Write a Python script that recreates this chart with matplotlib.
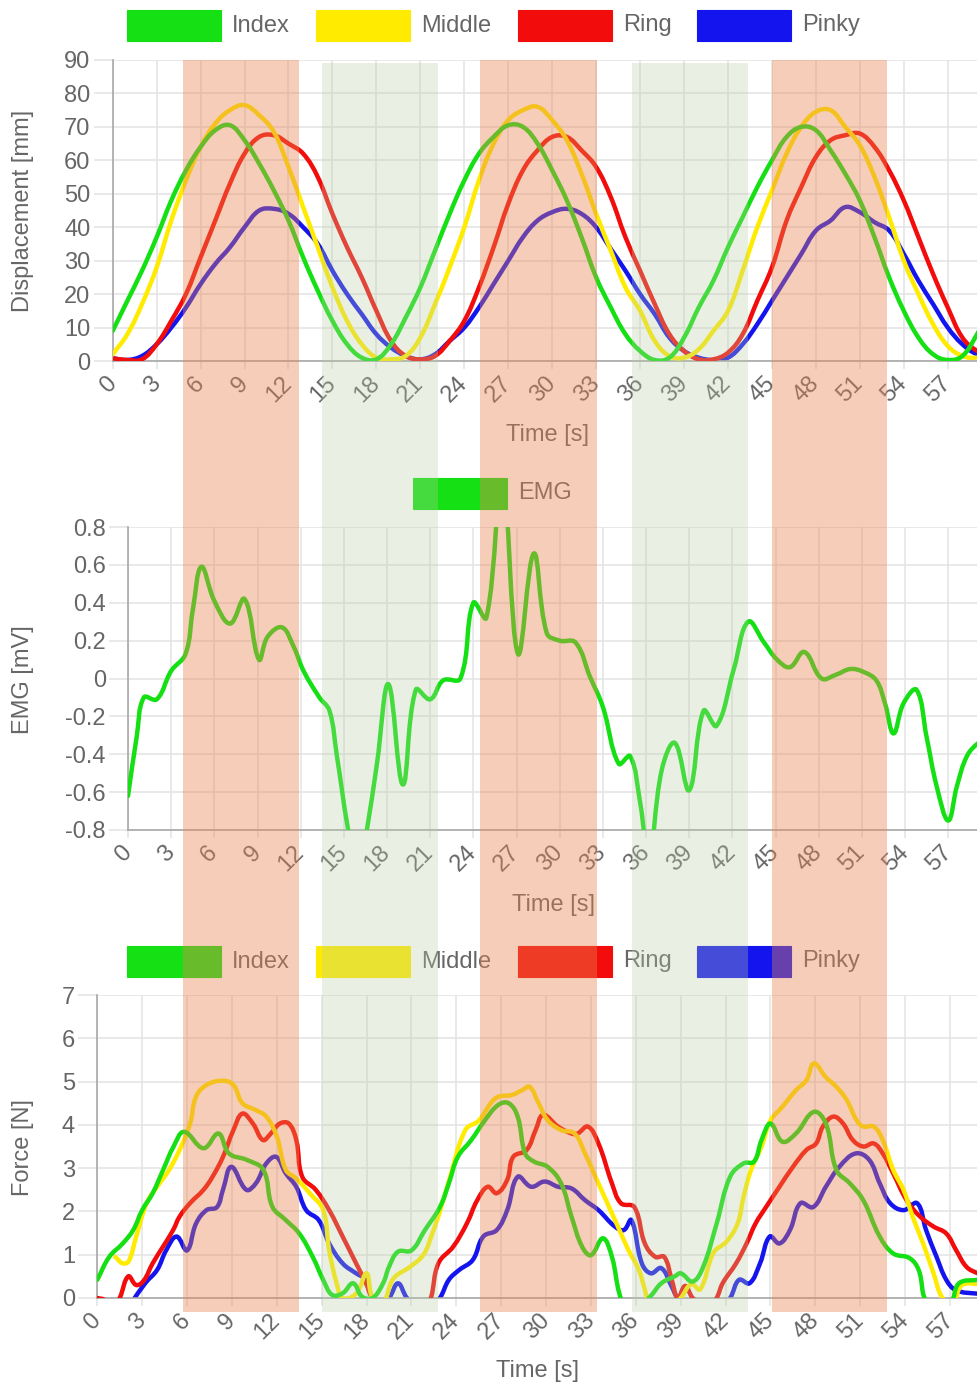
import numpy as np
import matplotlib
matplotlib.use("Agg")
import matplotlib.pyplot as plt
from matplotlib.path import Path
from matplotlib.patches import PathPatch, Rectangle

plt.rcParams['font.family'] = ['Liberation Sans', 'DejaVu Sans']

# ------------------------------------------------------------------ data
seconds = list(range(61))
tick_seconds = list(range(0, 58, 3))
finger_names = ['Index', 'Middle', 'Ring', 'Pinky']

# finger displacement [mm], one sample per second
disp_index = [9, 18, 27, 37, 48, 57, 64, 69, 70.5, 66, 59, 51, 42, 31, 21, 12, 5, 1, 0.5, 5,
              13, 22, 33, 44, 54, 62, 67, 70.5, 70, 65, 57, 48, 37, 25, 16, 8, 3, 0.3, 1, 7,
              16, 24, 34, 43, 52, 60, 67, 70, 69, 63, 56, 48, 37, 25, 15, 7, 2, 0.3, 1.5, 8, 16]
disp_middle = [2, 8, 17, 28, 42, 54, 64, 71, 75, 76.5, 73.5, 68.5, 58, 46, 34, 22, 12, 5, 1, 0.5,
               1.5, 7, 17, 28, 40, 54, 65, 72, 75, 76, 72, 66, 56, 44, 33, 22, 15, 6, 1.5, 1,
               3.5, 9, 15, 27, 40, 51, 62, 70, 74.5, 75, 70, 64.5, 55, 43, 30, 20, 11, 4.5, 1.5, 1, 2]
disp_ring = [0.8, 0.3, 0.5, 5, 12, 20, 31, 42, 53, 62, 67, 67.5, 65, 62, 55, 44, 34, 25, 15, 6,
             1.5, 0.5, 1.5, 6, 12, 22, 34, 47, 57, 63, 67, 67, 63, 58, 49, 37, 27, 17, 8, 3,
             0.5, 0.5, 2.5, 8, 18, 28, 42, 52, 61, 66, 67.5, 68, 64, 57, 48, 37, 26, 16, 7, 3, 1]
disp_pinky = [0.8, 0.3, 1.5, 5, 10, 16, 23, 29, 34, 40, 45, 45.5, 44, 40, 35, 27, 20, 14, 8, 4,
              1.5, 0.5, 2, 6, 10, 16, 23, 30, 37, 42, 44.5, 45.5, 44, 40, 33.5, 27, 20, 14, 7, 3,
              1, 0.3, 1, 5, 11, 18, 25, 32, 39, 42, 46, 44.5, 41.5, 39, 32, 24, 17, 10, 5, 2, 1]

# EMG [mV]
emg_time = [0, 0.6, 1.1, 2.0, 3.0, 4.0, 4.5, 5.1, 6.0, 7.1, 8.1, 9.1, 9.7, 10.7, 11.5, 12.2,
            13.3, 14.0, 14.5, 15.3, 16.0, 16.6, 17.3, 18.1, 19.1, 20.0, 21.0, 21.9, 23.1, 24.0,
            24.9, 26.0, 27.1, 28.2, 29.1, 30.0, 31.1, 32.1, 33.0, 34.1, 34.9, 35.6, 36.2, 37.1,
            38.0, 39.0, 40.0, 40.9, 42.1, 43.1, 44.2, 45.1, 46.0, 47.0, 48.2, 49.2, 50.2, 51.1,
            52.0, 52.6, 53.2, 53.9, 54.8, 55.5, 56.2, 57.0, 57.6, 58.3, 59.1, 60.0]
emg_mv = [-0.62, -0.31, -0.10, -0.11, 0.04, 0.13, 0.36, 0.59, 0.41, 0.29, 0.42, 0.10, 0.22, 0.27,
          0.17, 0.04, -0.10, -0.17, -0.40, -0.80, -1.05, -0.80, -0.45, -0.03, -0.56, -0.06, -0.11,
          -0.01, 0.0, 0.40, 0.32, 1.05, 0.13, 0.66, 0.24, 0.20, 0.19, 0.01, -0.15, -0.45, -0.41,
          -0.66, -0.95, -0.48, -0.34, -0.59, -0.17, -0.25, 0.05, 0.30, 0.19, 0.10, 0.06, 0.14, 0.0,
          0.02, 0.05, 0.035, -0.01, -0.13, -0.29, -0.13, -0.06, -0.31, -0.57, -0.75, -0.57, -0.41,
          -0.34, -0.30]

# fingertip force [N]
force_index_t = [0, 0.8, 1.7, 2.4, 3.0, 3.7, 4.4, 5.1, 5.8, 7.1, 8.1, 8.8, 10.0, 11.1, 11.7, 12.6,
                 13.5, 14.4, 15.1, 15.7, 16.4, 17.1, 17.7, 18.4, 19.1, 19.5, 20.1, 21.0, 21.9,
                 22.9, 23.5, 24.1, 25.0, 25.9, 26.8, 27.5, 28.1, 28.6, 29.2, 30.1, 31.0, 31.7,
                 32.4, 33.0, 33.8, 34.4, 34.9, 35.3, 36.3, 37.0, 37.7, 38.6, 39.0, 39.8, 40.5,
                 41.4, 42.3, 43.2, 43.9, 44.4, 45.0, 45.8, 46.7, 47.9, 48.7, 49.4, 50.3, 51.2,
                 52.3, 53.2, 54.3, 54.9, 55.5, 57.0, 57.6, 58.9, 60.0]
force_index = [0.42, 0.95, 1.26, 1.57, 2.03, 2.42, 2.96, 3.5, 3.84, 3.46, 3.8, 3.34, 3.19, 2.96,
               2.11, 1.8, 1.49, 0.95, 0.42, 0.07, 0.11, 0.34, 0.03, 0.0, 0.34, 0.72, 1.07, 1.1,
               1.57, 2.1, 2.65, 3.26, 3.65, 4.1, 4.46, 4.5, 4.19, 3.34, 3.15, 3.03, 2.65, 1.88,
               1.19, 0.99, 1.38, 0.95, 0.1, -0.15, -0.15, 0.05, 0.34, 0.5, 0.57, 0.38, 0.72,
               1.72, 2.8, 3.11, 3.15, 3.65, 4.03, 3.61, 3.8, 4.3, 4.03, 2.96, 2.65, 2.26,
               1.42, 1.03, 0.92, 0.65, -0.1, -0.1, 0.34, 0.42, 0.45]
force_middle_t = [1.2, 1.7, 2.1, 2.6, 3.3, 4.0, 4.8, 5.5, 6.2, 6.6, 7.3, 8.4, 9.1, 9.7, 10.6,
                  11.3, 12.0, 12.6, 13.3, 14.2, 15.1, 15.5, 16.0, 16.4, 17.3, 18.0, 18.4, 19.1,
                  19.8, 20.9, 21.8, 22.4, 22.9, 23.5, 24.6, 25.5, 26.3, 26.8, 27.7, 28.4, 28.9,
                  29.5, 30.1, 31.0, 31.9, 32.6, 33.3, 34.2, 34.8, 35.5, 36.2, 36.6, 36.9, 38.5,
                  39.0, 39.7, 40.3, 41.2, 42.05, 42.8, 43.2, 43.7, 44.4, 45.0, 45.8, 46.7, 47.4,
                  47.9, 48.7, 49.4, 50.1, 50.75, 51.2, 51.9, 52.5, 53.2, 53.9, 54.5, 55.2, 55.9,
                  56.5, 57.2, 57.8, 59.0, 60.0]
force_middle = [0.95, 0.8, 0.85, 1.42, 2.19, 2.57, 2.96, 3.42, 4.03, 4.65, 4.92, 5.02, 4.92, 4.5,
                4.34, 4.19, 3.73, 2.96, 2.76, 2.42, 2.03, 1.1, 0.34, 0.0, 0.1, 0.57, 0.0, -0.1,
                0.45, 0.72, 1.0, 1.5, 2.0, 2.7, 3.88, 4.1, 4.5, 4.65, 4.69, 4.8, 4.88, 4.5, 4.11,
                3.88, 3.8, 3.34, 2.8, 2.11, 1.65, 1.11, 0.65, 0.2, -0.1, -0.15, 0.0, 0.32, 0.2,
                1.05, 1.3, 1.72, 2.34, 2.96, 3.5, 4.1, 4.42, 4.8, 5.03, 5.42, 5.1, 4.88, 4.57,
                4.11, 3.96, 3.96, 3.65, 2.96, 2.49, 1.88, 1.26, 0.57, 0.0, -0.1, 0.3, 0.32, 0.3]
force_ring_t = [0, 0.5, 1.0, 1.5, 2.07, 2.6, 3.1, 3.7, 4.4, 5.07, 5.5, 6.2, 7.1, 7.7, 8.4, 9.1,
                9.7, 10.4, 11.07, 11.6, 12.2, 12.8, 13.3, 13.7, 14.6, 15.5, 16.4, 17.3, 17.96,
                18.4, 19.0, 22.0, 22.3, 22.8, 23.8, 24.7, 25.4, 26.1, 26.7, 27.4, 27.8, 28.7,
                29.3, 29.8, 30.8, 31.7, 32.1, 32.8, 33.5, 34.4, 35.0, 35.9, 36.6, 37.3, 37.9,
                38.4, 38.8, 39.3, 39.8, 40.5, 41.0, 41.4, 41.8, 42.7, 43.4, 44.0, 44.7, 45.6,
                46.5, 47.4, 48.05, 48.5, 49.2, 49.85, 50.5, 51.2, 51.9, 52.5, 53.2, 54.1, 55.0,
                55.9, 56.75, 57.4, 58.1, 58.85, 60.0]
force_ring = [0.0, -0.05, -0.3, 0.0, 0.5, 0.3, 0.4, 0.8, 1.19, 1.57, 1.88, 2.19, 2.5, 2.8, 3.26,
              3.88, 4.26, 4.03, 3.65, 3.8, 4.03, 4.03, 3.65, 2.8, 2.5, 2.03, 1.42, 0.8, 0.34, 0.0,
              -0.15, -0.15, 0.0, 0.8, 1.19, 1.72, 2.26, 2.57, 2.42, 2.73, 3.26, 3.42, 3.88, 4.23,
              3.96, 3.8, 3.8, 3.96, 3.57, 2.65, 2.19, 2.1, 1.26, 0.95, 0.95, 0.42, 0.0, 0.28, 0.0,
              -0.15, -0.15, 0.0, 0.34, 0.8, 1.26, 1.72, 2.1, 2.57, 3.03, 3.42, 3.57, 3.96, 4.19,
              4.03, 3.65, 3.5, 3.57, 3.34, 2.88, 2.26, 1.88, 1.65, 1.49, 1.11, 0.72, 0.57, 0.4]
force_pinky_t = [2.3, 3.2, 4.0, 4.6, 5.3, 6.0, 6.6, 7.3, 8.0, 8.4, 8.96, 9.96, 10.6, 11.3, 11.96,
                 12.6, 13.3, 13.96, 14.8, 15.5, 16.4, 17.3, 17.96, 18.4, 19.0, 19.5, 20.1, 20.7,
                 21.3, 22.4, 22.9, 23.5, 24.2, 25.1, 25.8, 26.7, 27.4, 28.1, 29.0, 29.9, 30.8,
                 31.7, 32.6, 33.5, 34.6, 35.2, 35.7, 36.4, 37.0, 37.7, 38.4, 38.8, 39.5, 41.8,
                 42.3, 42.9, 43.6, 44.3, 44.95, 45.6, 46.3, 47.0, 47.85, 48.7, 49.6, 50.7, 51.6,
                 52.3, 53.0, 53.9, 54.8, 55.4, 56.1, 56.75, 57.4, 58.85, 60.0]
force_pinky = [-0.1, 0.34, 0.65, 1.1, 1.42, 1.1, 1.72, 2.03, 2.1, 2.5, 3.03, 2.5, 2.65, 3.11,
               3.26, 2.88, 2.57, 2.03, 1.8, 1.26, 0.8, 0.57, 0.42, 0.0, -0.1, 0.0, 0.34, 0.0,
               -0.15, -0.15, 0.0, 0.42, 0.65, 0.88, 1.42, 1.57, 2.03, 2.8, 2.57, 2.69, 2.57,
               2.53, 2.26, 2.03, 1.65, 1.57, 1.8, 0.8, 0.57, 0.69, 0.26, 0.0, -0.15, -0.15,
               0.0, 0.42, 0.34, 0.8, 1.42, 1.26, 1.57, 2.19, 2.1, 2.57, 3.03, 3.34, 3.19,
               2.65, 2.19, 2.03, 2.19, 1.57, 0.95, 0.42, 0.18, 0.1, 0.08]

# ------------------------------------------------------------------ style
W, H = 978, 1384
finger_colors = ['#14e014', '#ffeb00', '#f20c0c', '#1414ee']
emg_color = '#14e014'
text_grey = '#666666'
grid_grey = '#e3e3e3'
axis_grey = '#a8a8a8'
FS = 17
LW = 3.2

fig = plt.figure(figsize=(W / 100, H / 100), dpi=100)
fig.patch.set_facecolor('white')


def fx(px):
    return px / W


def fy(py):
    return 1 - py / H


def make_axes(left, top, bottom, px_per_s, ylim, yticks, yticklabels):
    ax = fig.add_axes([fx(left), fy(bottom), fx(W - left), (bottom - top) / H])
    ax.set_xlim(0, (W - left) / px_per_s)
    ax.set_ylim(*ylim)
    ax.set_xticks(tick_seconds)
    ax.set_xticklabels([str(s) for s in tick_seconds])
    ax.set_yticks(yticks)
    ax.set_yticklabels(yticklabels)
    ax.grid(True, color=grid_grey, lw=1.1)
    ax.set_axisbelow(True)
    for side in ('top', 'right'):
        ax.spines[side].set_visible(False)
    for side in ('left', 'bottom'):
        ax.spines[side].set_color(axis_grey)
        ax.spines[side].set_linewidth(1.2)
    ax.tick_params(axis='y', length=14, width=1.1, color=grid_grey, pad=2,
                   labelsize=FS, labelcolor=text_grey)
    ax.tick_params(axis='x', length=6, width=1.1, color=grid_grey, pad=8,
                   labelsize=FS, labelcolor=text_grey)
    for lab in ax.get_xticklabels():
        lab.set_rotation(45)
        lab.set_ha('right')
        lab.set_va('center')
        lab.set_rotation_mode('anchor')
    return ax


def spline(ax, t, v, color, z, tension=0.4):
    # cubic Bezier through the samples, control points as in a tensioned line
    pts = ax.transData.transform(np.column_stack([np.asarray(t, float), np.asarray(v, float)]))
    n = len(pts)
    cin = np.zeros_like(pts)
    cout = np.zeros_like(pts)
    for i in range(n):
        prev = pts[i - 1] if i > 0 else pts[i]
        nxt = pts[i + 1] if i < n - 1 else pts[i]
        d01 = np.hypot(*(pts[i] - prev))
        d12 = np.hypot(*(nxt - pts[i]))
        tot = d01 + d12
        s01 = d01 / tot if tot else 0.0
        s12 = d12 / tot if tot else 0.0
        cin[i] = pts[i] - tension * s01 * (nxt - prev)
        cout[i] = pts[i] + tension * s12 * (nxt - prev)
    verts = [pts[0]]
    codes = [Path.MOVETO]
    for i in range(1, n):
        verts += [cout[i - 1], cin[i], pts[i]]
        codes += [Path.CURVE4] * 3
    verts = ax.transData.inverted().transform(np.array(verts))
    ax.add_patch(PathPatch(Path(verts, codes), fill=False, edgecolor=color, lw=LW,
                           zorder=z, capstyle='round', joinstyle='round'))


def legend(items, y_top, box_w=94, box_h=31):
    for (x, label, color) in items:
        fig.add_artist(Rectangle((fx(x), fy(y_top + box_h)), box_w / W, box_h / H,
                                 transform=fig.transFigure, facecolor=color,
                                 edgecolor=color, lw=0.8, zorder=2))
        fig.text(fx(x + box_w + 11), fy(y_top + box_h / 2), label, ha='left', va='center',
                 fontsize=FS, color=text_grey, zorder=3)


# ------------------------------------------------------------------ displacement
ax1 = make_axes(112.7, 60, 361, 14.65, (0, 90), list(range(0, 91, 10)),
                [str(v) for v in range(0, 91, 10)])
for k, series in reversed(list(enumerate([disp_index, disp_middle, disp_ring, disp_pinky]))):
    spline(ax1, seconds, series, finger_colors[k], 5 - k)
legend(list(zip([127, 316, 518, 697], finger_names, finger_colors)), 10)
fig.text(fx(23), fy(211), 'Displacement [mm]', rotation=90, ha='center', va='center',
         fontsize=FS, color=text_grey)
fig.text(fx(547), fy(435), 'Time [s]', ha='center', va='center', fontsize=FS, color=text_grey)

# ------------------------------------------------------------------ EMG
emg_ticks = [0.8, 0.6, 0.4, 0.2, 0, -0.2, -0.4, -0.6, -0.8]
ax2 = make_axes(128, 527, 830, 14.39, (-0.8, 0.8), emg_ticks,
                ['0' if v == 0 else f'{v:.1f}' for v in emg_ticks])
spline(ax2, emg_time, emg_mv, emg_color, 5)
legend([(413, 'EMG', emg_color)], 478)
fig.text(fx(23), fy(680), 'EMG [mV]', rotation=90, ha='center', va='center',
         fontsize=FS, color=text_grey)
fig.text(fx(554), fy(905), 'Time [s]', ha='center', va='center', fontsize=FS, color=text_grey)

# ------------------------------------------------------------------ force
ax3 = make_axes(97.3, 995, 1298, 14.96, (0, 7), list(range(0, 8)),
                [str(v) for v in range(0, 8)])
force_series = [(force_index_t, force_index), (force_middle_t, force_middle),
                (force_ring_t, force_ring), (force_pinky_t, force_pinky)]
for k, (tt, vv) in reversed(list(enumerate(force_series))):
    spline(ax3, tt, vv, finger_colors[k], 5 - k)
legend(list(zip([127, 316, 518, 697], finger_names, finger_colors)), 946)
fig.text(fx(23), fy(1148), 'Force [N]', rotation=90, ha='center', va='center',
         fontsize=FS, color=text_grey)
fig.text(fx(538), fy(1371), 'Time [s]', ha='center', va='center', fontsize=FS, color=text_grey)

# ------------------------------------------------------------------ task phases
phase_spans = [(183, 299, 'hold'), (322, 438, 'rest'), (480, 597, 'hold'),
               (632, 748, 'rest'), (772, 887, 'hold')]
phase_style = {'hold': ('#e8844f', 0.40, 60), 'rest': ('#b9d0a5', 0.30, 63)}
for x0, x1, kind in phase_spans:
    color, alpha, top = phase_style[kind]
    fig.add_artist(Rectangle((fx(x0), fy(1312)), (x1 - x0) / W, (1312 - top) / H,
                             transform=fig.transFigure, facecolor=color, edgecolor='none',
                             alpha=alpha, zorder=10))

fig.savefig('out.png', dpi=100, facecolor='white')
